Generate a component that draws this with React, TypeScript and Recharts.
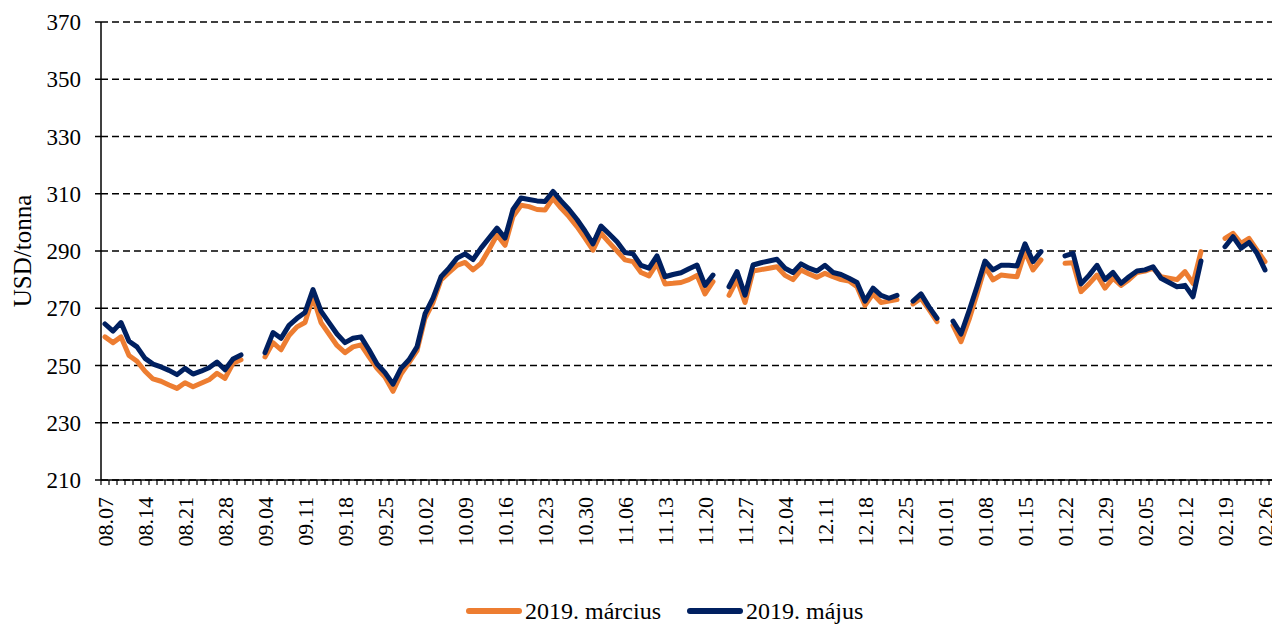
import React from 'react'
import { CartesianGrid, Legend, Line, LineChart, XAxis, YAxis } from 'recharts'

const FONT = "'Liberation Serif', 'Times New Roman', serif"
const ORANGE = '#ED7D31'
const NAVY = '#002060'

// trading days from 2018.08.07, plus one empty slot at the end of the axis
const dates: string[] = (() => {
  const out: string[] = []
  const d = new Date(Date.UTC(2018, 7, 7))
  while (out.length < 147) {
    const wd = d.getUTCDay()
    if (wd !== 0 && wd !== 6) {
      out.push(String(d.getUTCMonth() + 1).padStart(2, '0') + '.' + String(d.getUTCDate()).padStart(2, '0'))
    }
    d.setUTCDate(d.getUTCDate() + 1)
  }
  return out
})()

const yTicks = [210, 230, 250, 270, 290, 310, 330, 350, 370]

// 2019. március (USD/tonna)
const marcius: (number | null)[] = [
  260, 258, 260, 253.5, 251.5, 248, 245.3, 244.5, 243.2, 242,
  244, 242.6, 243.8, 245, 247.3, 245.5, 250.8, 252, null, null,
  253, 258, 255.5, 260.5, 263.5, 265, 274, 265, 261, 257,
  254.5, 256.5, 257.2, 253, 249, 246, 241, 247, 251, 255.2,
  266.5, 272, 279.9, 282.5, 285, 286, 283.4, 285.7, 290.5, 295.6,
  292, 302, 306, 305.5, 304.5, 304.3, 308.4, 305, 302, 298.5,
  294.5, 290.3, 296.2, 293, 290, 286.9, 286.3, 282.5, 281.3, 285.7,
  278.5, 278.7, 279, 280, 281.5, 275, 279.3, null, 274.5, 280,
  272, 283, 283.5, 284, 284.5, 281.5, 280, 283.4, 282, 280.8,
  282.2, 281, 280, 279.5, 277.5, 271, 275, 272, 272.5, 273,
  null, 271.5, 273.5, 269.5, 265.3, null, 264, 258.3, 266, 275,
  284.5, 279.9, 281.6, 281.3, 281, 289.8, 283.4, 286.9, null, null,
  285.7, 285.9, 275.8, 278.5, 281.6, 277, 280.5, 278, 280, 282.5,
  283, 284, 281, 280.5, 280, 282.8, 278.7, 289.8, null, null,
  294.4, 296.2, 292.7, 294.4, 290.3, 286.3, null,
]

// 2019. május (USD/tonna)
const majus: (number | null)[] = [
  264.5, 262, 265, 258.5, 256.5, 252.5, 250.5, 249.5, 248.3, 246.8,
  249, 247, 248, 249.2, 251.2, 248.5, 252.3, 253.7, null, null,
  254.5, 261.5, 259.5, 264, 266.5, 268.5, 276.5, 269, 265, 261,
  258, 259.5, 260, 255.5, 250.5, 247.5, 243.5, 249, 252, 256.5,
  268, 273.5, 281, 284, 287.5, 289, 287, 291, 294.5, 298,
  294.5, 304.5, 308.5, 308, 307.5, 307.3, 310.8, 307.5, 304.5, 301,
  297, 292.5, 298.7, 296, 293.2, 289.5, 289, 285, 284, 288.3,
  281, 281.8, 282.4, 283.8, 285.1, 278, 281.6, null, 277.5, 282.8,
  274.6, 285.1, 285.9, 286.5, 287.1, 284, 282.5, 285.5, 284, 283,
  285, 282.5, 281.8, 280.5, 279, 272.5, 277, 274.5, 273.5, 274.5,
  null, 272.5, 275, 270.5, 266.5, null, 265.5, 261, 269, 277.5,
  286.5, 283.4, 285, 285, 284.8, 292.5, 286.3, 289.8, null, null,
  288.3, 289.2, 278.5, 281.5, 285, 280, 282.5, 278.7, 281, 283,
  283.4, 284.5, 280.5, 279, 277.5, 278, 274, 286.5, null, null,
  291.5, 295, 291, 293, 289.2, 283.4, null,
]

const data = dates.map((date, i) => ({
  date,
  marcius: marcius[i] ?? null,
  majus: majus[i] ?? null,
}))

const DateTick = (props: any) => {
  const { x, y, index, payload } = props
  const last = index === dates.length - 1
  return (
    <g>
      <line x1={x - 4} x2={x - 4} y1={y} y2={y + 5} stroke="#000" strokeWidth={1.2} />
      {last && <line x1={x + 4} x2={x + 4} y1={y} y2={y + 5} stroke="#000" strokeWidth={1.2} />}
      {index % 5 === 0 && !last && (
        <text
          transform={`translate(${x},${y + 17}) rotate(-90)`}
          textAnchor="end"
          dy="0.35em"
          fill="#000"
          fontSize={22}
          fontFamily={FONT}
        >
          {payload.value}
        </text>
      )}
    </g>
  )
}

const renderYLabel = (props: any) => {
  const vb = props.viewBox
  const x = vb.x + 14
  const y = vb.y + vb.height / 2
  return (
    <text
      x={x}
      y={y}
      transform={`rotate(-90, ${x}, ${y})`}
      textAnchor="middle"
      dominantBaseline="central"
      fill="#000"
      fontSize={25}
      fontFamily={FONT}
    >
      USD/tonna
    </text>
  )
}

const renderLegend = () => (
  <div
    style={{
      display: 'flex',
      alignItems: 'center',
      fontFamily: FONT,
      fontSize: 24,
      lineHeight: '28px',
      color: '#000',
      paddingLeft: 457,
    }}
  >
    <svg width={58} height={10}>
      <line x1={4} x2={54} y1={5} y2={5} stroke={ORANGE} strokeWidth={6} strokeLinecap="round" />
    </svg>
    <span style={{ marginLeft: 2 }}>2019. március</span>
    <svg width={58} height={10} style={{ marginLeft: 25 }}>
      <line x1={4} x2={54} y1={5} y2={5} stroke={NAVY} strokeWidth={6} strokeLinecap="round" />
    </svg>
    <span style={{ marginLeft: 2 }}>2019. május</span>
  </div>
)

export default function App() {
  return (
    <div style={{ width: 1272, height: 616 }}>
      <LineChart width={1272} height={616} data={data} margin={{ top: 14, right: 3, left: 0, bottom: 0 }}>
        <CartesianGrid vertical={false} stroke="#000" strokeWidth={1.4} strokeDasharray="7 4" />
        <XAxis
          dataKey="date"
          interval={0}
          height={144}
          padding={{ left: 4, right: 4 }}
          tickSize={0}
          tickMargin={0}
          tickLine={false}
          axisLine={{ stroke: '#000', strokeWidth: 1.5 }}
          tick={<DateTick />}
        />
        <YAxis
          width={93}
          domain={[210, 370]}
          ticks={yTicks}
          interval={0}
          tickSize={6}
          tickMargin={14}
          axisLine={{ stroke: '#000', strokeWidth: 1.5 }}
          tickLine={{ stroke: '#000', strokeWidth: 1.5 }}
          tick={{ fill: '#000', fontSize: 23, fontFamily: FONT }}
          label={renderYLabel}
        />
        <Legend
          verticalAlign="middle"
          align="center"
          layout="horizontal"
          content={renderLegend}
          wrapperStyle={{ top: 589, left: 0, width: 1272 }}
        />
        <Line
          type="linear"
          dataKey="marcius"
          name="2019. március"
          stroke={ORANGE}
          strokeWidth={5}
          strokeLinecap="round"
          strokeLinejoin="round"
          dot={false}
          activeDot={false}
          isAnimationActive={false}
        />
        <Line
          type="linear"
          dataKey="majus"
          name="2019. május"
          stroke={NAVY}
          strokeWidth={5}
          strokeLinecap="round"
          strokeLinejoin="round"
          dot={false}
          activeDot={false}
          isAnimationActive={false}
        />
      </LineChart>
    </div>
  )
}
